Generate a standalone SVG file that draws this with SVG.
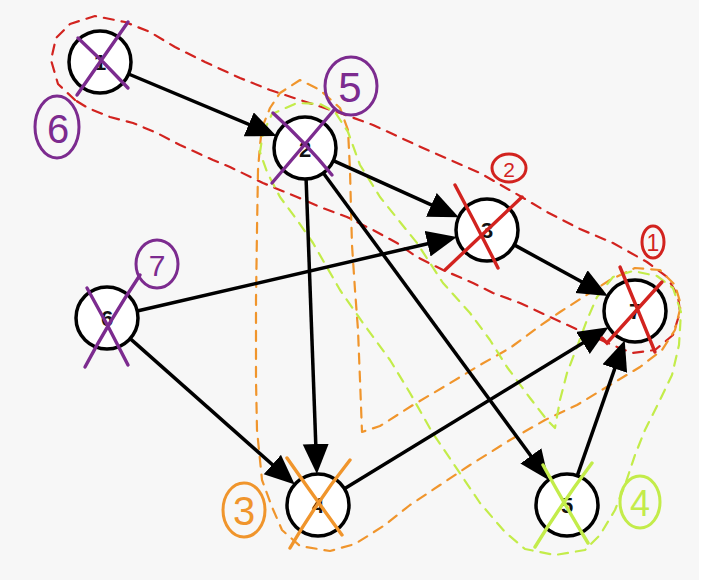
<svg xmlns="http://www.w3.org/2000/svg" width="701" height="583" viewBox="0 0 701 583">
<defs>
<marker id="ah" markerUnits="userSpaceOnUse" markerWidth="32" markerHeight="28" refX="20" refY="13" orient="auto">
<path d="M0,0 L30,13 L0,26 Z" fill="#000"/>
</marker>
<style>
.edge{stroke:#000;stroke-width:3.5;fill:none;marker-end:url(#ah)}
.node circle{fill:#fff;stroke:#000;stroke-width:3.5}
.lbl{font-family:"Liberation Sans",Arial,sans-serif;font-weight:bold;font-size:22px;fill:#111;text-anchor:middle;dominant-baseline:central}
.dash{fill:none;stroke-width:2.2;stroke-dasharray:10 8;stroke-linejoin:round;stroke-linecap:round}
.x{stroke-width:3.4;stroke-linecap:round;fill:none}
.ring{fill:none;stroke-width:3}
.num{font-family:"Liberation Sans",Arial,sans-serif;text-anchor:middle;dominant-baseline:central}
.red{stroke:#d2231f}
.org{stroke:#f0952c}
.grn{stroke:#c3ec4a}
.pur{stroke:#7c2b8f}
</style>
</defs>
<rect x="0" y="0" width="699" height="580" fill="#f7f7f7"/>

<g id="outlines">
<path class="dash red" d="M75,100 L58,84 L51,60 L56,38 L70,24 L95,16 L125,22 L150,32 L175,47 L205,62 L240,78 L270,90 L300,100 L340,113 L373,125 L423,148 L480,173 L520,196 L547,212 L580,229 L613,243 L647,262 L667,277 L678,296 L680,312 L673,335 L655,350 L632,353 L610,344 L585,333 L550,317 L520,303 L493,293 L473,283 L443,270 L417,257 L397,243 L373,230 L347,217 L320,207 L297,197 L263,183 L230,167 L213,160 L180,145 L157,133 L133,123 L110,117 L88,108 Z"/>
<path class="dash org" d="M262,128 L270,108 L280,93 L300,80 L320,90 L340,108 L348,130 L350,170 L351,210 L352,245 L355,290 L358,330 L360,380 L362,432 L380,426 L413,405 L447,385 L480,365 L510,348 L537,328 L560,312 L585,296 L610,280 L635,268 L660,270 L675,285 L681,305 L675,330 L662,350 L640,367 L610,385 L577,405 L545,420 L510,440 L470,465 L440,485 L410,505 L385,525 L355,544 L330,551 L300,546 L282,530 L272,507 L262,480 L257,430 L256,380 L256,300 L257,230 L258,170 L260,145 Z"/>
<path class="dash grn" d="M263,133 L272,114 L297,103 L320,104 L335,112 L348,132 L360,165 L380,197 L400,222 L417,243 L443,283 L470,313 L490,340 L507,367 L530,398 L547,420 L555,428 L560,400 L567,373 L577,347 L587,320 L597,297 L613,277 L633,271 L657,276 L673,288 L681,312 L679,345 L672,375 L660,400 L645,430 L635,455 L625,485 L615,510 L600,535 L585,550 L555,555 L525,549 L505,532 L480,503 L453,463 L432,432 L410,393 L390,360 L363,323 L340,290 L313,243 L297,220 L280,197 L267,172 L260,152 Z"/>
</g>

<g id="connectors">
<line class="edge" x1="128.6" y1="74" x2="267.2" y2="132.1"/>
<line class="edge" x1="333.3" y1="160.7" x2="449.6" y2="213.1"/>
<line class="edge" x1="137.2" y1="311" x2="447.1" y2="239.2"/>
<line class="edge" x1="514.2" y1="244.9" x2="599" y2="291.3"/>
<line class="edge" x1="344.4" y1="488.8" x2="600" y2="332.4"/>
<line class="edge" x1="577.3" y1="475.7" x2="621.4" y2="349.7"/>
<line class="edge" x1="306.1" y1="179" x2="316.5" y2="464"/>
<line class="edge" x1="323.3" y1="173" x2="542.7" y2="472"/>
<line class="edge" x1="130.2" y1="338.6" x2="287.3" y2="477.8"/>
</g>

<g id="node1" class="node"><circle cx="100" cy="62" r="31"/><text class="lbl" x="100" y="62">1</text></g>
<g id="node2" class="node"><circle cx="305" cy="148" r="31"/><text class="lbl" x="305" y="149">2</text></g>
<g id="node3" class="node"><circle cx="487" cy="230" r="31"/><text class="lbl" x="487" y="230">3</text></g>
<g id="node6" class="node"><circle cx="107" cy="318" r="31"/><text class="lbl" x="107" y="318">6</text></g>
<g id="node7" class="node"><circle cx="635" cy="311" r="31"/><text class="lbl" x="635" y="311">7</text></g>
<g id="node4" class="node"><circle cx="318" cy="505" r="31"/><text class="lbl" x="318" y="505">4</text></g>
<g id="node5" class="node"><circle cx="567" cy="505" r="31"/><text class="lbl" x="567" y="505">5</text></g>

<g id="marks">
<path class="x pur" d="M77,95 L128,22 M78,38 Q104,62 128,88"/>
<path class="x pur" d="M273,113 Q305,142 332,175 M272,183 L334,110"/>
<path class="x red" d="M455,185 Q478,228 498,268 M445,270 L522,197"/>
<path class="x red" d="M620,267 Q638,310 655,352 M602,338 L607,343 L662,282"/>
<path class="x org" d="M287,458 Q315,498 342,535 M290,548 Q318,500 350,460"/>
<path class="x grn" d="M543,465 Q565,505 588,543 M535,547 Q562,503 592,463"/>
<path class="x pur" d="M87,288 Q108,325 128,365 M85,367 Q110,320 140,275"/>

<ellipse class="ring pur" cx="57" cy="127" rx="22" ry="31"/>
<text class="num" x="58" y="129" font-size="40" fill="#7c2b8f">6</text>
<ellipse class="ring pur" cx="351" cy="86" rx="26" ry="29"/>
<text class="num" x="350" y="87" font-size="42" fill="#7c2b8f">5</text>
<ellipse class="ring pur" cx="157" cy="264" rx="21" ry="24"/>
<text class="num" x="157" y="265" font-size="30" fill="#7c2b8f">7</text>
<ellipse class="ring red" cx="509" cy="168" rx="17" ry="14" stroke-width="2.4"/>
<text class="num" x="509" y="169" font-size="21" fill="#d2231f">2</text>
<ellipse class="ring red" cx="653" cy="242" rx="11" ry="16" stroke-width="2.4"/>
<text class="num" x="653" y="243" font-size="23" fill="#d2231f">1</text>
<ellipse class="ring org" cx="244" cy="510" rx="21" ry="27"/>
<text class="num" x="244" y="511" font-size="40" fill="#f0952c">3</text>
<ellipse class="ring grn" cx="640" cy="502" rx="20" ry="26"/>
<text class="num" x="640" y="503" font-size="36" fill="#c3ec4a">4</text>
</g>
</svg>
